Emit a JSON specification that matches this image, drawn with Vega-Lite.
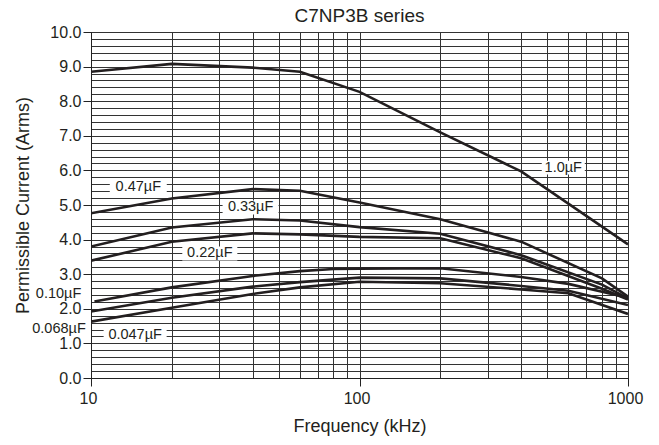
{
  "$schema": "https://vega.github.io/schema/vega-lite/v6.json",
  "width": 537,
  "height": 346,
  "autosize": {"type": "none"},
  "padding": {"left": 91, "top": 32, "right": 31, "bottom": 67},
  "background": "white",
  "title": {"text": "C7NP3B series", "fontSize": 19, "font": "Liberation Sans", "fontWeight": "normal", "color": "#231f20", "anchor": "middle", "baseline": "alphabetic", "offset": -17},
  "config": {
    "view": {"stroke": "#222"},
    "axis": {"labelFont": "Liberation Sans", "titleFont": "Liberation Sans", "labelColor": "#231f20", "titleColor": "#231f20", "labelFontSize": 16, "titleFontSize": 18, "titleFontWeight": "normal", "gridColor": "#333", "gridWidth": 1, "gridOpacity": 1, "domainColor": "#222", "tickColor": "#222", "tickSize": 8, "labelFlush": false, "labelOverlap": false}
  },
  "datasets": {
    "curves": [
      {"series": "1.0µF", "freq": 10, "current": 8.85},
      {"series": "1.0µF", "freq": 20, "current": 9.08},
      {"series": "1.0µF", "freq": 40, "current": 8.97},
      {"series": "1.0µF", "freq": 60, "current": 8.85},
      {"series": "1.0µF", "freq": 100, "current": 8.27},
      {"series": "1.0µF", "freq": 200, "current": 7.1},
      {"series": "1.0µF", "freq": 400, "current": 5.97},
      {"series": "1.0µF", "freq": 1000, "current": 3.86},
      {"series": "0.47µF", "freq": 10, "current": 4.76},
      {"series": "0.47µF", "freq": 20, "current": 5.19},
      {"series": "0.47µF", "freq": 40, "current": 5.46},
      {"series": "0.47µF", "freq": 60, "current": 5.41},
      {"series": "0.47µF", "freq": 100, "current": 5.07},
      {"series": "0.47µF", "freq": 200, "current": 4.59},
      {"series": "0.47µF", "freq": 400, "current": 3.94},
      {"series": "0.47µF", "freq": 800, "current": 2.88},
      {"series": "0.47µF", "freq": 1000, "current": 2.35},
      {"series": "0.33µF", "freq": 10, "current": 3.8},
      {"series": "0.33µF", "freq": 20, "current": 4.35},
      {"series": "0.33µF", "freq": 40, "current": 4.59},
      {"series": "0.33µF", "freq": 60, "current": 4.55},
      {"series": "0.33µF", "freq": 100, "current": 4.36},
      {"series": "0.33µF", "freq": 200, "current": 4.17},
      {"series": "0.33µF", "freq": 400, "current": 3.55},
      {"series": "0.33µF", "freq": 800, "current": 2.7},
      {"series": "0.33µF", "freq": 1000, "current": 2.3},
      {"series": "0.22µF", "freq": 10, "current": 3.39},
      {"series": "0.22µF", "freq": 20, "current": 3.94},
      {"series": "0.22µF", "freq": 40, "current": 4.18},
      {"series": "0.22µF", "freq": 60, "current": 4.15},
      {"series": "0.22µF", "freq": 100, "current": 4.08},
      {"series": "0.22µF", "freq": 200, "current": 4.04},
      {"series": "0.22µF", "freq": 400, "current": 3.46},
      {"series": "0.22µF", "freq": 800, "current": 2.58},
      {"series": "0.22µF", "freq": 1000, "current": 2.27},
      {"series": "0.10µF", "freq": 10.3, "current": 2.21},
      {"series": "0.10µF", "freq": 20, "current": 2.62},
      {"series": "0.10µF", "freq": 40, "current": 2.95},
      {"series": "0.10µF", "freq": 60, "current": 3.09},
      {"series": "0.10µF", "freq": 80, "current": 3.15},
      {"series": "0.10µF", "freq": 100, "current": 3.16},
      {"series": "0.10µF", "freq": 200, "current": 3.17},
      {"series": "0.10µF", "freq": 400, "current": 2.92},
      {"series": "0.10µF", "freq": 600, "current": 2.72},
      {"series": "0.10µF", "freq": 1000, "current": 2.32},
      {"series": "0.068µF", "freq": 10, "current": 1.92},
      {"series": "0.068µF", "freq": 20, "current": 2.32},
      {"series": "0.068µF", "freq": 40, "current": 2.64},
      {"series": "0.068µF", "freq": 60, "current": 2.77},
      {"series": "0.068µF", "freq": 100, "current": 2.9},
      {"series": "0.068µF", "freq": 200, "current": 2.88},
      {"series": "0.068µF", "freq": 400, "current": 2.66},
      {"series": "0.068µF", "freq": 600, "current": 2.52},
      {"series": "0.068µF", "freq": 1000, "current": 2.11},
      {"series": "0.047µF", "freq": 10, "current": 1.63},
      {"series": "0.047µF", "freq": 20, "current": 2.03},
      {"series": "0.047µF", "freq": 40, "current": 2.43},
      {"series": "0.047µF", "freq": 60, "current": 2.62},
      {"series": "0.047µF", "freq": 100, "current": 2.78},
      {"series": "0.047µF", "freq": 200, "current": 2.74},
      {"series": "0.047µF", "freq": 400, "current": 2.56},
      {"series": "0.047µF", "freq": 600, "current": 2.45},
      {"series": "0.047µF", "freq": 1000, "current": 1.85}
    ],
    "labels": [
      {"label": "1.0µF", "freq": 574, "current": 6.08},
      {"label": "0.47µF", "freq": 15.0, "current": 5.53},
      {"label": "0.33µF", "freq": 39.3, "current": 4.93},
      {"label": "0.22µF", "freq": 27.7, "current": 3.6},
      {"label": "0.10µF", "freq": 7.57, "current": 2.42},
      {"label": "0.068µF", "freq": 7.6, "current": 1.43},
      {"label": "0.047µF", "freq": 14.6, "current": 1.23}
    ]
  },
  "layer": [
    {
      "data": {"name": "curves"},
      "mark": {"type": "line", "color": "#231f20", "strokeWidth": 2.6, "clip": true},
      "encoding": {
        "x": {
          "field": "freq", "type": "quantitative",
          "scale": {"type": "log", "domain": [10, 1000], "nice": false},
          "axis": {
            "title": "Frequency (kHz)",
            "values": [10, 20, 30, 40, 50, 60, 70, 80, 90, 100, 200, 300, 400, 500, 600, 700, 800, 900, 1000],
            "tickCount": 200,
            "format": "d",
            "labelOverlap": false,
            "labelExpr": "indexof([10, 100, 1000], datum.value) >= 0 ? datum.label : ''",
            "tickOpacity": {"condition": {"test": "indexof([10, 100, 1000], datum.value) >= 0", "value": 1}, "value": 0},
            "labelPadding": 4,
            "labelOffset": -3,
            "titlePadding": 11
          }
        },
        "y": {
          "field": "current", "type": "quantitative",
          "scale": {"domain": [0, 10], "nice": false},
          "axis": {
            "title": "Permissible Current (Arms)",
            "values": [0, 0.2, 0.4, 0.6, 0.8, 1, 1.2, 1.4, 1.6, 1.8, 2, 2.2, 2.4, 2.6, 2.8, 3, 3.2, 3.4, 3.6, 3.8, 4, 4.2, 4.4, 4.6, 4.8, 5, 5.2, 5.4, 5.6, 5.8, 6, 6.2, 6.4, 6.6, 6.8, 7, 7.2, 7.4, 7.6, 7.8, 8, 8.2, 8.4, 8.6, 8.8, 9, 9.2, 9.4, 9.6, 9.8, 10],
            "tickCount": 200,
            "labelOverlap": false,
            "labelExpr": "abs(datum.value - round(datum.value)) < 0.01 ? format(datum.value, '.1f') : ''",
            "tickOpacity": {"condition": {"test": "abs(datum.value - round(datum.value)) < 0.01", "value": 1}, "value": 0},
            "labelPadding": 2,
            "titlePadding": 17
          }
        },
        "detail": {"field": "series", "type": "nominal"}
      }
    },
    {
      "data": {"name": "labels"},
      "transform": [{"filter": {"field": "label", "oneOf": ["1.0µF", "0.47µF", "0.33µF", "0.22µF", "0.047µF"]}}],
      "mark": {"type": "point", "filled": true, "color": "white", "opacity": 1, "size": 3600, "strokeWidth": 0},
      "encoding": {
        "x": {"field": "freq", "type": "quantitative"},
        "y": {"field": "current", "type": "quantitative"},
        "shape": {
          "field": "label", "type": "nominal", "legend": null,
          "scale": {
            "domain": ["1.0µF", "0.47µF", "0.33µF", "0.22µF", "0.047µF"],
            "range": [
              "M -0.717 -0.233 L 0.717 -0.233 L 0.717 0.233 L -0.717 0.233 Z",
              "M -0.95 -0.233 L 0.95 -0.233 L 0.95 0.233 L -0.95 0.233 Z",
              "M -0.933 -0.233 L 0.933 -0.233 L 0.933 0.233 L -0.933 0.233 Z",
              "M -0.917 -0.233 L 0.917 -0.233 L 0.917 0.233 L -0.917 0.233 Z",
              "M -1.05 -0.233 L 1.05 -0.233 L 1.05 0.233 L -1.05 0.233 Z"
            ]
          }
        }
      }
    },
    {
      "data": {"name": "labels"},
      "mark": {"type": "text", "font": "Liberation Sans", "fontSize": 14.5, "color": "#231f20", "align": "center", "baseline": "middle"},
      "encoding": {
        "x": {"field": "freq", "type": "quantitative"},
        "y": {"field": "current", "type": "quantitative"},
        "text": {"field": "label"}
      }
    }
  ]
}
